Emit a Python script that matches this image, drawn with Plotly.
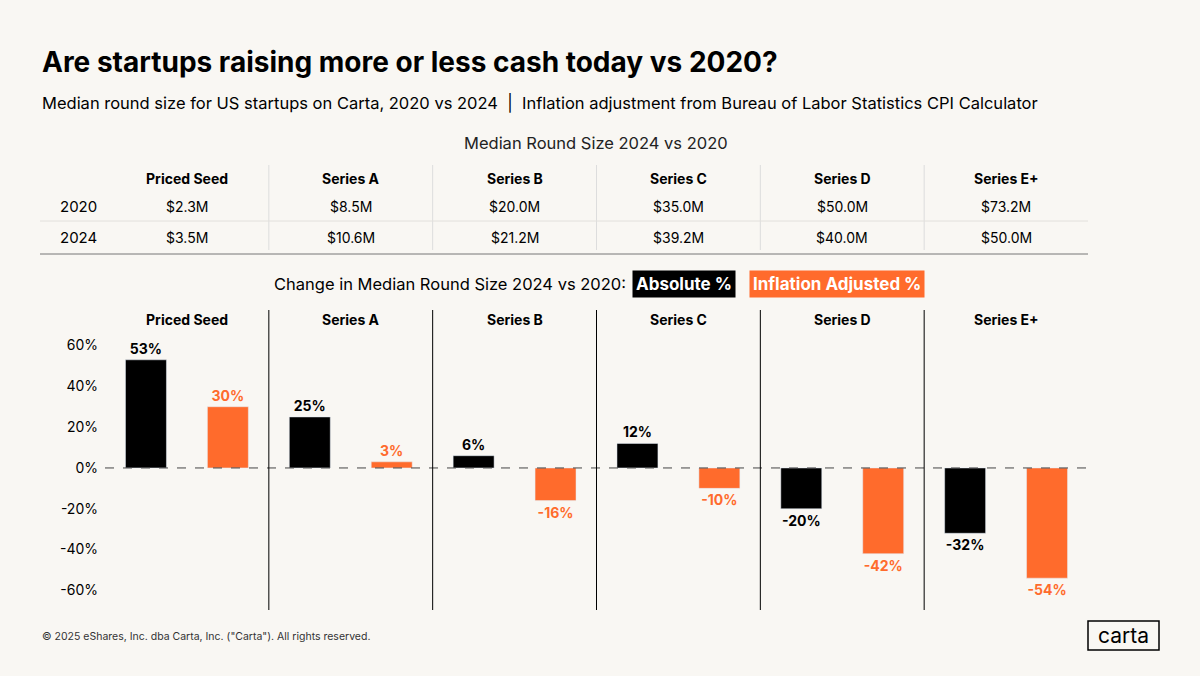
import plotly.graph_objects as go

categories = ["Priced Seed", "Series A", "Series B", "Series C", "Series D", "Series E+"]
size_2020 = ["$2.3M", "$8.5M", "$20.0M", "$35.0M", "$50.0M", "$73.2M"]
size_2024 = ["$3.5M", "$10.6M", "$21.2M", "$39.2M", "$40.0M", "$50.0M"]
absolute_pct = [53, 25, 6, 12, -20, -32]
inflation_pct = [30, 3, -16, -10, -42, -54]
y_ticks = [60, 40, 20, 0, -20, -40, -60]

BG = "#f9f7f3"
ORANGE = "#ff6b2c"
FONT = "Inter"

L, R, T, B = 105, 1088, 310, 610
def px(x): return (x - L) / (R - L)
def py(y): return (B - y) / (B - T)

idx = list(range(len(categories)))
fig = go.Figure()
fig.add_bar(x=[i - 0.25 for i in idx], y=absolute_pct, width=0.25, marker_color="#000000",
            text=[f"<b>{v}%</b>" for v in absolute_pct], textposition="outside",
            textfont=dict(color="#000", size=14, family=FONT), cliponaxis=False)
fig.add_bar(x=[i + 0.25 for i in idx], y=inflation_pct, width=0.25, marker_color=ORANGE,
            text=[f"<b>{v}%</b>" for v in inflation_pct], textposition="outside",
            textfont=dict(color=ORANGE, size=14, family=FONT), cliponaxis=False)

shapes = []
ann = []
shapes.append(dict(type="line", xref="paper", yref="y", x0=0, x1=1, y0=0, y1=0,
                   line=dict(color="#444", width=1, dash="dash")))
for i in range(1, 6):
    xp = L + i * (R - L) / 6
    shapes.append(dict(type="line", xref="paper", yref="paper", x0=px(xp), x1=px(xp),
                       y0=0, y1=1, line=dict(color="#000", width=1)))
    shapes.append(dict(type="line", xref="paper", yref="paper", x0=px(xp), x1=px(xp),
                       y0=py(165), y1=py(250), line=dict(color="#ddd", width=1)))
shapes.append(dict(type="line", xref="paper", yref="paper", x0=px(40), x1=1, y0=py(221), y1=py(221),
                   line=dict(color="#e2e0dc", width=1)))
shapes.append(dict(type="line", xref="paper", yref="paper", x0=px(40), x1=1, y0=py(254), y1=py(254),
                   line=dict(color="#777", width=1)))
shapes.append(dict(type="rect", xref="paper", yref="paper", x0=px(1088), x1=px(1159),
                   y0=py(650), y1=py(621), line=dict(color="#000", width=1.5)))

for i, c in enumerate(categories):
    cx = L + (i + 0.5) * (R - L) / 6
    ann.append(dict(x=px(cx), y=py(178), text=f"<b>{c}</b>", font=dict(size=14)))
    ann.append(dict(x=px(cx), y=py(206), text=size_2020[i], font=dict(size=14)))
    ann.append(dict(x=px(cx), y=py(237), text=size_2024[i], font=dict(size=14)))
    ann.append(dict(x=px(cx), y=py(319), text=f"<b>{c}</b>", font=dict(size=14)))
ann.append(dict(x=px(78), y=py(206), text="2020", font=dict(size=15)))
ann.append(dict(x=px(78), y=py(237), text="2024", font=dict(size=15)))
ann.append(dict(x=px(40), y=py(62), text="<b>Are startups raising more or less cash today vs 2020?</b>",
                font=dict(size=28), xanchor="left"))
ann.append(dict(x=px(40), y=py(103), xanchor="left", font=dict(size=16.5),
                text="Median round size for US startups on Carta, 2020 vs 2024  |  Inflation adjustment from Bureau of Labor Statistics CPI Calculator"))
ann.append(dict(x=px(596), y=py(143), text="Median Round Size 2024 vs 2020", font=dict(size=16.5, color="#222")))
ann.append(dict(x=px(628), y=py(284), xanchor="right", text="Change in Median Round Size 2024 vs 2020:",
                font=dict(size=16.5)))
ann.append(dict(x=px(632), y=py(284), xanchor="left", text="<b>Absolute %</b>", bgcolor="#000",
                font=dict(size=17, color="white"), borderpad=3))
ann.append(dict(x=px(749), y=py(284), xanchor="left", text="<b>Inflation Adjusted %</b>", bgcolor=ORANGE,
                font=dict(size=17, color="white"), borderpad=3))
ann.append(dict(x=px(40), y=py(636), xanchor="left", text='© 2025 eShares, Inc. dba Carta, Inc. ("Carta"). All rights reserved.',
                font=dict(size=10.5, color="#333")))
ann.append(dict(x=px(1123), y=py(635), text="carta", font=dict(size=21, color="#000")))
for a in ann:
    a.update(xref="paper", yref="paper", showarrow=False, yanchor="middle")
    a.setdefault("xanchor", "center")
    a["font"].setdefault("color", "#000")
    a["font"]["family"] = FONT

fig.update_layout(
    width=1200, height=676, paper_bgcolor=BG, plot_bgcolor=BG, showlegend=False,
    margin=dict(l=L, r=1200 - R, t=T, b=676 - B), barmode="overlay",
    font=dict(family=FONT, color="#000"),
    xaxis=dict(range=[-0.5, 5.5], visible=False, fixedrange=True),
    yaxis=dict(range=[-69.6, 77.4], tickvals=y_ticks, ticktext=[f"{v}%" for v in y_ticks],
               showgrid=False, zeroline=False, tickfont=dict(size=14), ticks="", ticklabelstandoff=6),
    shapes=shapes, annotations=ann,
)
fig.write_html("out.html", config={"displayModeBar": False},
               post_script="document.body.style.margin='0';document.body.style.overflow='hidden';document.body.style.background='%s';" % BG)
